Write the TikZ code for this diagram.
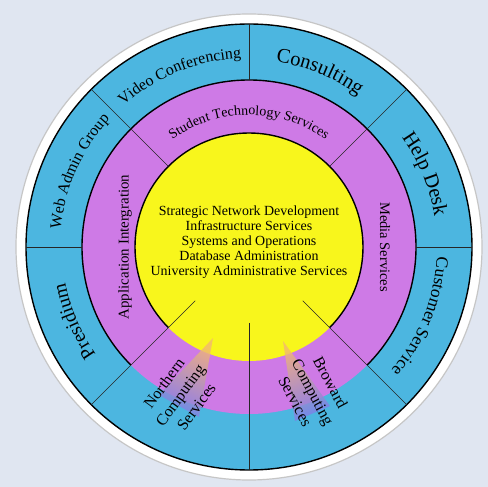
\documentclass[tikz,border=0pt]{standalone}
\usepackage{fontspec}
\setmainfont{Liberation Serif}
\usetikzlibrary{decorations.text}
\definecolor{bgpaper}{RGB}{224,230,241}
\definecolor{ringblue}{RGB}{76,182,224}
\definecolor{ringpink}{RGB}{206,122,230}
\definecolor{ringyellow}{RGB}{248,246,28}
\definecolor{wedgetip}{RGB}{242,184,112}
\definecolor{wedgebase}{RGB}{122,124,238}
\tikzset{
  rim/.style={draw=black, line width=1.4pt},
  divider/.style={draw=black!85, line width=0.6pt},
  arclabel/.style={decorate, decoration={text along path, text align=center, text={#1}}},
  wedge/.style={top color=wedgetip, bottom color=wedgebase, shading angle=#1, opacity=0.8},
}
\newcommand{\fs}[1]{\fontsize{#1}{#1}\selectfont}

\begin{document}
\begin{tikzpicture}[x=1bp, y=1bp]
\useasboundingbox (-249,-240) rectangle (239,247);
\fill[bgpaper] (-249,-240) rectangle (239,247);
\fill[white, draw=gray!45, line width=1.2pt] (0,0) circle (233);

\fill[ringblue] (0,0) circle (223);
\fill[ringpink] (0,0) circle (167);
\fill[ringyellow] (0,0) circle (114);

\draw[rim] (0,0) circle (223);
\draw[rim] (225:167) arc[start angle=225, end angle=-45, radius=167];
\draw[rim] (225:114) arc[start angle=225, end angle=-45, radius=114];

\foreach \a in {0,90,180} \draw[divider] (\a:167) -- (\a:223);
\foreach \a in {45,135} \draw[divider] (\a:114) -- (\a:223);
\foreach \a in {225,270,315} \draw[divider] (\a:76) -- (\a:223);

% outer ring
\path[arclabel={|\fs{16}|Video Conferencing}] (142:189) arc[start angle=142, end angle=82, radius=189];
\path[arclabel={|\fs{20.5}|Consulting}] (98:187) arc[start angle=98, end angle=38, radius=187];
\path[arclabel={|\fs{20.5}|Help Desk}] (52:188) arc[start angle=52, end angle=-7, radius=188];
\path[arclabel={|\fs{17.5}|Customer Service}] (8:188) arc[start angle=8, end angle=-52, radius=188];
\path[arclabel={|\fs{19.5}|Presidium}] (233:187) arc[start angle=233, end angle=173, radius=187];
\path[arclabel={|\fs{16}|Web Admin Group}] (186:189) arc[start angle=186, end angle=126, radius=189];

% middle ring
\path[arclabel={|\fs{14}|Student Technology Services}] (135:132) arc[start angle=135, end angle=45, radius=132];
\node (appint) at (180:124) [rotate=90, font=\fs{15}] {Application Intergration};
\node (media) at (0:136) [rotate=-90, font=\fs{14.5}] {Media Services};

% core
\node (core) at (0,5) [align=center, font=\fontsize{14}{15}\selectfont] {Strategic Network Development\\Infrastructure Services\\Systems and Operations\\Database Administration\\University Administrative Services};

% campus wedges
\shade[wedge=-26] (-36,-91) -- (-90,-148) -- (-50,-170) -- cycle;
\shade[wedge=22] (34,-94) -- (46,-174) -- (81,-159) -- cycle;
\node (north) at (-69,-148) [rotate=54, align=center, font=\fontsize{16}{20}\selectfont] {Northern\\Computing\\Services};
\node (broward) at (64,-145) [rotate=-62, align=center, font=\fontsize{16}{20}\selectfont] {Broward\\Computing\\Services};

\end{tikzpicture}
\end{document}
